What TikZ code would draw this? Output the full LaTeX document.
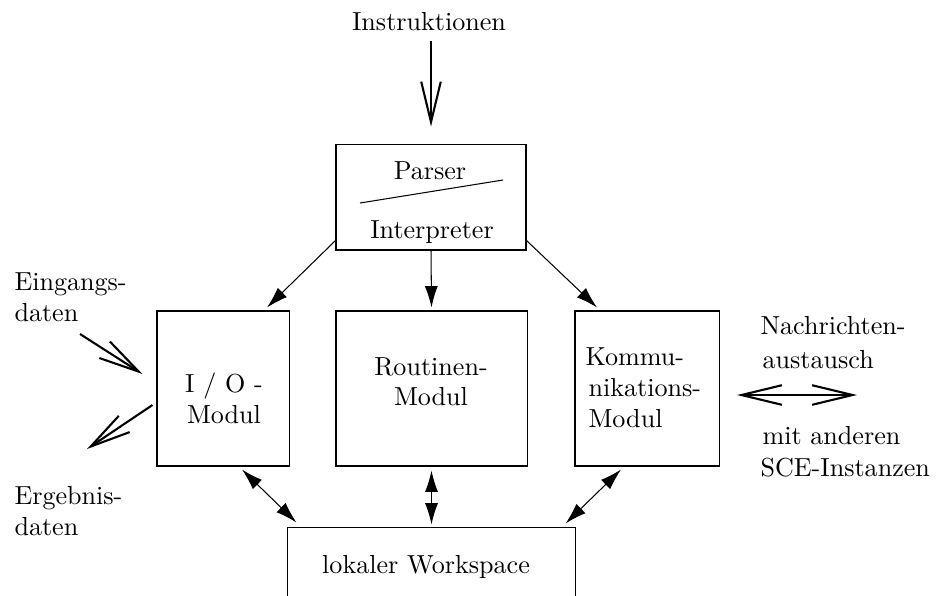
\documentclass[tikz,border=0pt]{standalone}
\usetikzlibrary{arrows.meta,calc}
\begin{document}
\begin{tikzpicture}[x=0.3832pt,y=-0.3832pt,
  box/.style={draw,line width=0.4pt,inner sep=0pt},
  lbl/.style={anchor=base,inner sep=0pt},
  lblw/.style={anchor=base west,inner sep=0pt},
  flow/.style={line width=0.4pt,-{Latex[length=8.2pt,width=5pt]}},
  link/.style={line width=0.4pt,{Latex[length=8.2pt,width=5pt]}-{Latex[length=8.2pt,width=5pt]}},
  bigarrow/.style={line width=0.8pt,-{Straight Barb[length=15.5pt,width=7.5pt]}},
  bigboth/.style={line width=0.8pt,{Straight Barb[length=15.5pt,width=7.5pt]}-{Straight Barb[length=15.5pt,width=7.5pt]}},
  ]
\useasboundingbox (0,0) rectangle (939,595);
\clip (0,0) rectangle (939,595);

% boxes
\node[box,minimum width=72.8pt,minimum height=40.6pt] (parser) at (431,197) {};
\node[box,minimum width=50.6pt,minimum height=59.4pt] (io) at (223,388.5) {};
\node[box,minimum width=73.2pt,minimum height=59.4pt] (rout) at (431.5,388.5) {};
\node[box,minimum width=55.2pt,minimum height=59.4pt] (komm) at (647,388.5) {};
\node[box,minimum width=110pt,minimum height=38.3pt] (ws) at (431.5,577) {};

% texts
\node[lbl] (instr) at (429,30) {Instruktionen};
\node[lbl] (parsertxt) at (430,179) {Parser};
\node[lbl] (interptxt) at (432,238) {Interpreter};
\draw[line width=0.4pt] (360,203) -- (503,180);

\node[lbl] (iotxt) at (224,392) {I / O -};
\node[lbl] (iotxtb) at (224,423) {Modul};
\node[lbl] (routtxt) at (431,375) {Routinen-};
\node[lbl] (routtxtb) at (431,405) {Modul};
\node[lblw] (kommtxt) at (585,365) {Kommu-};
\node[lblw] (kommtxtb) at (588,396) {nikations-};
\node[lblw] (kommtxtc) at (588,427) {Modul};
\node[lbl] (wstxt) at (426,573) {lokaler Workspace};

\node[lblw] (eintxt) at (14,290) {Eingangs-};
\node[lblw] (eintxtb) at (14,321) {daten};
\node[lblw] (ergtxt) at (14,504) {Ergebnis-};
\node[lblw] (ergtxtb) at (14,535) {daten};
\node[lblw] (nachtxt) at (760,334) {Nachrichten-};
\node[lblw] (nachtxtb) at (762,368) {austausch};
\node[lblw] (mittxt) at (762,444) {mit anderen};
\node[lblw] (mittxtb) at (760,476) {SCE-Instanzen};

% open arrows
\draw[bigarrow,shorten <=3.8pt,shorten >=6.5pt] (instr.south -| parser.north) -- (parser.north);
\coordinate (einstart) at (80,334);
\draw[bigarrow] (einstart) -- ($(io.west)+(-14,-14.5)$);
\coordinate (ergend) at (87,449);
\draw[bigarrow] ($(io.west)+(-4,16.5)$) -- (ergend);
\coordinate (nachl) at (737,395);
\coordinate (nachr) at (857,395);
\draw[bigboth] (nachl) -- (nachr);

% parser to modules
\draw[flow] ($(parser.south west)+(0,-10)$) -- ($(io.north)+(44,-3)$);
\draw[flow] (parser.south) -- ($(rout.north)+(0,-3)$);
\draw[flow] ($(parser.south east)+(0,-10)$) -- ($(komm.north)+(-50,-3)$);

% modules to workspace
\draw[link] ($(io.south)+(19,3)$) -- ($(ws.north west)+(9,-4)$);
\draw[link] ($(rout.south)+(0,4)$) -- ($(ws.north)+(0,-2)$);
\draw[link] ($(komm.south)+(-26,3)$) -- ($(ws.north east)+(-10,-3)$);
\end{tikzpicture}
\end{document}
